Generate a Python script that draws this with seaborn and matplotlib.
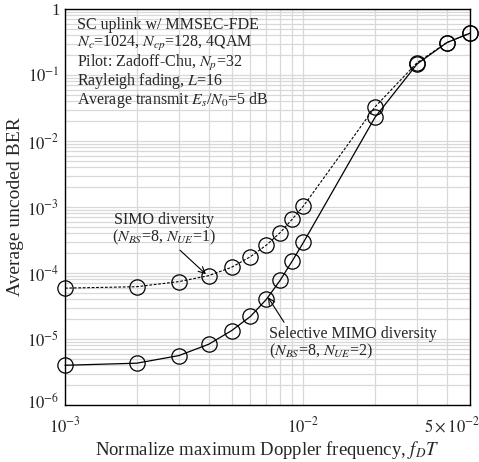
import numpy as np
import pandas as pd
import matplotlib
matplotlib.use("Agg")
import matplotlib.pyplot as plt
import matplotlib.ticker as mticker
import matplotlib.transforms as mtrans
import seaborn as sns

# ---- data ----
fdT = [0.001, 0.002, 0.003, 0.004, 0.005, 0.006, 0.007, 0.008, 0.009, 0.01,
       0.02, 0.03, 0.04, 0.05]
ber_simo = [5.9e-5, 6.2e-5, 7.4e-5, 9.1e-5, 1.22e-4, 1.77e-4, 2.65e-4, 4.1e-4,
            6.6e-4, 1.03e-3, 3.3e-2, 0.154, 0.31, 0.43]
ber_mimo = [4.0e-6, 4.3e-6, 5.6e-6, 8.3e-6, 1.34e-5, 2.2e-5, 4.0e-5, 7.8e-5,
            1.54e-4, 2.9e-4, 2.3e-2, 0.147, 0.31, 0.43]
y_ticks = [1e-6, 1e-5, 1e-4, 1e-3, 1e-2, 1e-1, 1]
y_ticklabels = ["$10^{-6}$", "$10^{-5}$", "$10^{-4}$", "$10^{-3}$",
                "$10^{-2}$", "$10^{-1}$", "1"]
x_ticks = [1e-3, 1e-2, 5e-2]
x_ticklabels = ["$10^{-3}$", "$10^{-2}$", r"$5\times10^{-2}$"]
info_lines = ["SC uplink w/ MMSEC-FDE",
              "$N_c$=1024, $N_{cp}$=128, 4QAM",
              "Pilot: Zadoff-Chu, $N_p$=32",
              "Rayleigh fading, $L$=16",
              "Average transmit $E_s$/$N_0$=5 dB"]

df_simo = pd.DataFrame({"fdT": fdT, "BER": ber_simo})
df_mimo = pd.DataFrame({"fdT": fdT, "BER": ber_mimo})

sns.set_style("white")
plt.rcParams["font.family"] = ["Liberation Serif", "DejaVu Serif"]
plt.rcParams["mathtext.fontset"] = "stix"

W, H = 479, 462
fig = plt.figure(figsize=(W/100, H/100), dpi=100)
ax = fig.add_axes([65/W, 57/H, 405/W, 396/H])

sns.lineplot(data=df_simo, x="fdT", y="BER", ax=ax, color="black",
             linewidth=0.8, linestyle=(0, (2.5, 1.5)), marker="o", markersize=11,
             markerfacecolor="none", markeredgecolor="black", markeredgewidth=0.9,
             clip_on=False)
sns.lineplot(data=df_mimo, x="fdT", y="BER", ax=ax, color="black",
             linewidth=0.9, linestyle="-", marker="o", markersize=11,
             markerfacecolor="none", markeredgecolor="black", markeredgewidth=0.9,
             clip_on=False)

ax.set_xscale("log")
ax.set_yscale("log")
ax.set_xlim(1e-3, 5e-2)
ax.set_ylim(1e-6, 1)

ax.set_yticks(y_ticks)
ax.set_yticklabels(y_ticklabels)
ax.yaxis.set_minor_locator(mticker.LogLocator(base=10, subs=np.arange(2, 10), numticks=20))
ax.yaxis.set_minor_formatter(mticker.NullFormatter())
ax.set_xticks(x_ticks)
ax.set_xticklabels(x_ticklabels)
ax.xaxis.set_minor_locator(mticker.FixedLocator(
    [2e-3, 3e-3, 4e-3, 5e-3, 6e-3, 7e-3, 8e-3, 9e-3, 2e-2, 3e-2, 4e-2]))
ax.xaxis.set_minor_formatter(mticker.NullFormatter())

ax.tick_params(which="major", direction="in", length=5, width=0.8, labelsize=12,
               top=False, right=False)
ax.tick_params(which="minor", direction="in", length=3, width=0.6,
               top=False, right=False)
ax.tick_params(axis="x", which="major", pad=8)
ax.tick_params(axis="y", which="major", pad=4)

# shift the 5x10^-2 label so it stays inside the figure
lab = ax.get_xticklabels()[-1]
lab.set_horizontalalignment("right")
lab.set_transform(lab.get_transform() + mtrans.ScaledTranslation(10/100, 0, fig.dpi_scale_trans))
# lift the lowest y label slightly as in the reference
lab6 = ax.get_yticklabels()[0]
lab6.set_transform(lab6.get_transform() + mtrans.ScaledTranslation(0, 4/100, fig.dpi_scale_trans))

ax.grid(True, which="major", color="#d8d8d8", linewidth=0.9)
ax.grid(True, which="minor", color="#d8d8d8", linewidth=0.9)
ax.set_axisbelow(True)
for s in ax.spines.values():
    s.set_color("black")
    s.set_linewidth(1.0)

ax.set_xlabel("Normalize maximum Doppler frequency, $f_DT$", fontsize=13.5, labelpad=2)
ax.set_ylabel("Average uncoded BER", fontsize=14, labelpad=2)

for i, line in enumerate(info_lines):
    ypix = 25 + i * 18.8
    fig.text(77/W, 1 - ypix/H, line, ha="left", va="center", fontsize=11.5)

ax.annotate("SIMO diversity\n($N_{BS}$=8, $N_{UE}$=1)",
            xy=(0.0039, 9.6e-5), xytext=(0.0026, 8.5e-4),
            ha="center", va="top", fontsize=11.5, linespacing=1.0,
            arrowprops=dict(arrowstyle="->", color="black", lw=0.8,
                            shrinkA=0, shrinkB=0, relpos=(0.62, 0.0)))
ax.annotate("Selective MIMO diversity\n($N_{BS}$=8, $N_{UE}$=2)",
            xy=(0.0071, 4.3e-5), xytext=(0.0072, 1.6e-5),
            ha="left", va="top", fontsize=11.5, linespacing=1.0,
            arrowprops=dict(arrowstyle="->", color="black", lw=0.8,
                            shrinkA=0, shrinkB=0, relpos=(0.1, 1.0)))

fig.savefig("out.png", dpi=100)
